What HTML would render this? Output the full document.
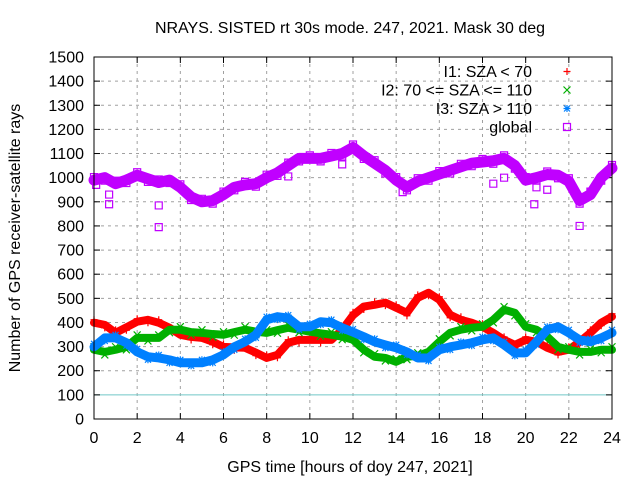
<!DOCTYPE html>
<html><head><meta charset="utf-8"><style>
body{margin:0;background:#fff;}
svg text{font-family:"Liberation Sans",sans-serif;font-size:16px;fill:#000;}
</style></head><body>
<svg id="chart" width="640" height="480" xmlns="http://www.w3.org/2000/svg">
<rect width="640" height="480" fill="#fff"/>
<text x="350" y="33" text-anchor="middle">NRAYS. SISTED rt 30s mode. 247, 2021. Mask 30 deg</text>
<text x="350" y="472" text-anchor="middle">GPS time [hours of doy 247, 2021]</text>
<text transform="translate(20,238) rotate(-90)" text-anchor="middle">Number of GPS receiver-satellite rays</text>
<g id="grid"></g><g id="ticks"></g><g id="series"></g>
<rect x="94" y="57" width="518" height="362" fill="none" stroke="#000" stroke-width="1"/>
<g id="legend"></g>
</svg>
<script>
const hours=[0,0.5,1,1.5,2,2.5,3,3.5,4,4.5,5,5.5,6,6.5,7,7.5,8,8.5,9,9.5,10,10.5,11,11.5,12,12.5,13,13.5,14,14.5,15,15.5,16,16.5,17,17.5,18,18.5,19,19.5,20,20.5,21,21.5,22,22.5,23,23.5,24];
const i1=[399,390,357,380,403,411,399,378,349,340,336,320,299,297,295,275,253,266,316,328,328,328,328,370,430,466,473,482,461,440,502,523,494,432,411,399,382,357,328,307,328,320,295,278,287,320,357,399,424];
const i2=[287,278,287,299,336,336,336,370,370,360,357,352,349,360,370,362,357,368,378,370,362,355,349,341,328,287,258,253,237,258,262,278,320,357,370,378,382,411,453,440,382,370,341,299,287,278,278,287,287];
const i3=[299,336,336,316,278,258,253,245,233,233,233,245,266,299,320,349,411,424,418,382,382,403,399,378,360,341,320,307,295,278,253,253,287,299,307,316,328,336,307,274,274,320,370,382,357,328,320,336,357];
const glob=[990,1000,975,990,1010,995,980,990,960,920,900,905,930,960,970,975,1000,1020,1050,1080,1080,1080,1090,1100,1125,1090,1060,1030,990,960,985,1000,1015,1030,1045,1060,1065,1070,1080,1050,990,1000,1013,1010,985,905,930,1000,1040];
const outX=[0.1,0.7,0.7,3,3,9,11.5,14.3,18.5,19,20.4,20.5,21,22.5];
const outY=[970,890,930,795,885,1005,1055,940,975,1000,890,960,950,800];
const xTicks=[0,2,4,6,8,10,12,14,16,18,20,22,24];
const yTicks=[0,100,200,300,400,500,600,700,800,900,1000,1100,1200,1300,1400,1500];
const NS="http://www.w3.org/2000/svg";
const X=h=>94+h*(518/24), Y=v=>419-v*(362/1500);
function mk(tag,attrs,parent){const e=document.createElementNS(NS,tag);for(const k in attrs)e.setAttribute(k,attrs[k]);parent.appendChild(e);return e;}
const grid=document.getElementById('grid'),ticks=document.getElementById('ticks'),ser=document.getElementById('series'),leg=document.getElementById('legend');
xTicks.forEach(t=>{
 if(t>0&&t<24){const g=mk('line',{x1:X(t),x2:X(t),y1:57,y2:419,stroke:'#a0a0a0','stroke-dasharray':'3,4'},grid);
 
 }
 mk('line',{x1:X(t),x2:X(t),y1:419,y2:413,stroke:'#000'},ticks);
 mk('line',{x1:X(t),x2:X(t),y1:57,y2:63,stroke:'#000'},ticks);
 const l=mk('text',{x:X(t),y:443,'text-anchor':'middle'},ticks);l.textContent=t;
 
 
});
yTicks.forEach(t=>{
 if(t>0&&t<1500){const g=mk('line',{x1:94,x2:612,y1:Y(t),y2:Y(t),stroke:t===100?'#70c8c8':'#a0a0a0','stroke-dasharray':t===100?'none':'3,4'},grid);
 
 }
 mk('line',{x1:94,x2:100,y1:Y(t),y2:Y(t),stroke:'#000'},ticks);
 mk('line',{x1:606,x2:612,y1:Y(t),y2:Y(t),stroke:'#000'},ticks);
 const l=mk('text',{x:84,y:Y(t)+5.5,'text-anchor':'end'},ticks);l.textContent=t;
 
 
});
function marker(type,x,y,col,p){
 let d;
 if(type==='+')d=`M${x-3.5},${y}h7M${x},${y-3.5}v7`;
 else if(type==='x')d=`M${x-3.5},${y-3.5}l7,7M${x-3.5},${y+3.5}l7,-7`;
 else if(type==='*')d=`M${x-3.5},${y}h7M${x},${y-3.5}v7M${x-3},${y-3}l6,6M${x-3},${y+3}l6,-6`;
 else d=`M${x-3.5},${y-3.5}h7v7h-7z`;
 return mk('path',{d:d,stroke:col,fill:'none','stroke-width':1.2},p);
}
const series=[['i1',i1,'#ff0000','+',8],['i2',i2,'#00b000','x',8],['i3',i3,'#0080ff','*',9],['global',glob,'#c000ff','s',11]];
series.forEach(([name,vals,col,type,w])=>{
 const g=mk('g',{},ser);
 
 
 const pl=mk('polyline',{points:hours.map((h,i)=>X(h)+','+Y(vals[i])).join(' '),fill:'none',stroke:col,'stroke-width':w,'stroke-linejoin':'round','stroke-linecap':'round'},g);
 
 
 hours.forEach((h,i)=>{const m=marker(type,X(h),Y(vals[i])+(i%2?3:-3),col,g);
 
 });
});
outX.forEach((h,i)=>{const m=marker('s',X(h),Y(outY[i]),'#c000ff',ser);
 
 });
const legItems=[['I1: SZA < 70','#ff0000','+'],['I2: 70 <= SZA <= 110','#00b000','x'],['I3: SZA > 110','#0080ff','*'],['global','#c000ff','s']];
legItems.forEach(([t,col,type],i)=>{
 const y=77+i*18.5;
 const tx=mk('text',{x:532,y:y,'text-anchor':'end'},leg);tx.textContent=t;
 
 
 const m=marker(type,567,y-5.5,col,leg);
 
 
});
</script>
</body></html>
